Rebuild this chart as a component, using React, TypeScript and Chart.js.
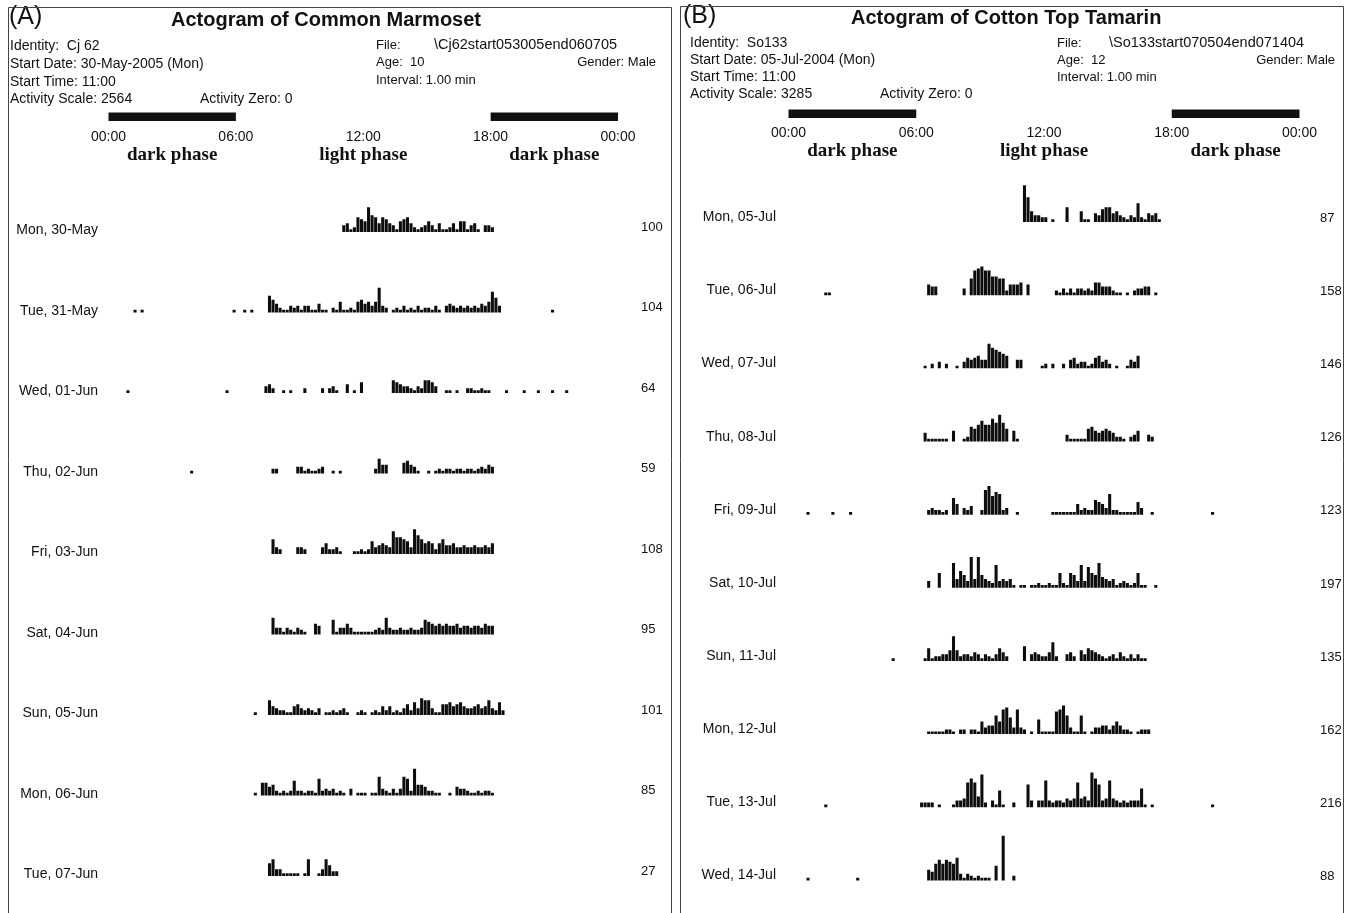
import React, { useEffect, useRef } from "react";
import { Chart, registerables } from "chart.js";

Chart.register(...registerables);

// ---------- data ----------
const HOUR_TICKS = [0, 6, 12, 18, 24];
const HOUR_LABELS = ["00:00", "06:00", "12:00", "18:00", "00:00"];
const PHASE_TICKS = [3, 12, 21];
const PHASE_LABELS = ["dark phase", "light phase", "dark phase"];
const DARK_SPANS = [
  [0, 6],
  [18, 24],
];

// activity levels per 10-min bin (24 groups of 6 = one group per hour), base-36 digits
const A_DAYS = ["Mon, 30-May", "Tue, 31-May", "Wed, 01-Jun", "Thu, 02-Jun", "Fri, 03-Jun", "Sat, 04-Jun", "Sun, 05-Jun", "Mon, 06-Jun", "Tue, 07-Jun"];
const A_TOTALS = [100, 104, 64, 59, 108, 95, 101, 85, 27];
const A_ACTIVITY = [
  "000000 000000 000000 000000 000000 000000 000000 000000 000000 000000 000000 341276 5c8747 643156 742123 531411 241551 341033 200000 000000 000000 000000 000000 000000",
  "000000 010100 000000 000000 000000 000001 001010 000864 211323 133114 110215 112156 4535c3 201213 121312 213103 432323 232435 a73000 000000 000001 000000 000000 000000",
  "000001 000000 000000 000000 000000 000100 000000 003420 010100 020000 202310 040105 000000 006543 321326 653001 101002 211211 000010 000100 010001 000100 000000 000000",
  "000000 000000 000000 000001 000000 000000 000000 000022 000003 312112 300101 000000 000274 400005 643100 101212 212212 212324 300000 000000 000000 000000 000000 000000",
  "000000 000000 000000 000000 000000 000000 000000 000073 200003 320000 352231 000112 126345 43b887 63c975 652574 453343 343343 500000 000000 000000 000000 000000 000000",
  "000000 000000 000000 000000 000000 000000 000000 000083 313213 210054 000713 353111 111232 832232 232237 654545 445344 344354 400000 000000 000000 000000 000000 000000",
  "000000 000000 000000 000000 000000 000000 000001 000743 221145 323213 011212 310012 101214 241213 526387 731155 645643 345347 326200 000000 000000 000000 000000 000000",
  "000000 000000 000000 000000 000000 000000 000001 066452 121272 212218 232312 103011 101193 213139 82d554 221100 104332 112122 100000 000000 000000 000000 000000 000000",
  "000000 000000 000000 000000 000000 000000 000000 000683 311111 018001 385220 000000 000000 000000 000000 000000 000000 000000 000000 000000 000000 000000 000000 000000",
];

const B_DAYS = ["Mon, 05-Jul", "Tue, 06-Jul", "Wed, 07-Jul", "Thu, 08-Jul", "Fri, 09-Jul", "Sat, 10-Jul", "Sun, 11-Jul", "Mon, 12-Jul", "Tue, 13-Jul", "Wed, 14-Jul"];
const B_TOTALS = [87, 158, 146, 126, 123, 197, 135, 162, 216, 88];
const B_ACTIVITY = [
  "000000 000000 000000 000000 000000 000000 000000 000000 000000 000000 000000 ic5332 201000 700051 104367 745321 329214 341000 000000 000000 000000 000000 000000 000000",
  "000000 000011 000000 000000 000000 000000 000544 000000 0308cd ecc998 825556 050000 000213 131332 326644 421101 023344 010000 000000 000000 000000 000000 000000 000000",
  "000000 000000 000000 000000 000000 000000 001020 302001 035456 44ca98 760044 000001 202002 045233 125634 201001 436000 000000 000000 000000 000000 000000 000000 000000",
  "000000 000000 000000 000000 000000 000000 004111 111050 012768 a88b9d 960510 000000 000000 311111 675456 542210 235003 200000 000000 000000 000000 000000 000000 000000",
  "000001 000000 100001 000000 000000 000000 000232 212085 032400 2ce9ba 230010 000000 001111 111523 227653 a22111 116300 100000 000000 000001 000000 000000 000000 000000",
  "000000 000000 000000 000000 000000 000000 000300 7000c4 863f4f 6432b3 434101 101121 121172 1763b3 a76c54 341232 127110 010000 000000 000000 000000 000000 000000 000000",
  "000000 000000 000000 000000 000001 000000 001612 2335c5 233243 132136 420000 703432 249200 342053 654321 231421 313110 000000 000000 000000 000000 000000 000000 000000",
  "000000 000000 000000 000000 000000 000000 000111 112210 220221 634496 cd83c3 201071 111bce 931191 013344 246422 101222 000000 000000 000000 000000 000000 000000 000000",
  "000000 000010 000000 000000 000000 000000 022220 100013 34cec5 g20318 100200 0b3033 d32332 434c45 3heb34 d43232 333910 100000 000000 000001 000000 000000 000000 000000",
  "000001 000000 000000 010000 000000 000000 000548 a8a98b 313212 111070 m00200 000000 000000 000000 000000 000000 000000 000000 000000 000000 000000 000000 000000 000000",
];

// ---------- styling / layout ----------
const SANS = "'Liberation Sans', Arial, sans-serif";
const SERIF = "'Liberation Serif', 'Times New Roman', serif";
const INK = "#111";
const INFO = `14px ${SANS}`;
const INFO_R = `13px ${SANS}`;
const PATH = `14.5px ${SANS}`;
const BINS_PER_HOUR = 6;

type TextItem = { text: string; x: number; y: number; font?: string; align?: CanvasTextAlign };

type Panel = {
  key: string;
  width: number;
  days: string[];
  totals: number[];
  activity: string[];
  hourAxisHeight: number;
  phaseAxisHeight: number;
  leftWidth: number;
  rightWidth: number;
  leftPad: number;
  rightPad: number;
  leftOffset: number;
  rightOffset: number;
  yMax: number;
  firstBase: number;
  rowGap: number;
  darkTop: number;
  darkHeight: number;
  frame: { left: number; right: number; top: number };
  texts: TextItem[];
};

const PANEL_A: Panel = {
  key: "A",
  width: 676,
  days: A_DAYS,
  totals: A_TOTALS,
  activity: A_ACTIVITY,
  hourAxisHeight: 146,
  phaseAxisHeight: 24,
  leftWidth: 108.5,
  rightWidth: 58,
  leftPad: 10.5,
  rightPad: 23,
  leftOffset: -1.5,
  rightOffset: -4.5,
  yMax: (913 - 170) / 2,
  firstBase: 30.85,
  rowGap: 40.25,
  darkTop: 112.5,
  darkHeight: 8.5,
  frame: { left: 8.5, right: 671.5, top: 7.5 },
  texts: [
    { text: "(A)", x: 9, y: 17, font: `25px ${SANS}` },
    { text: "Actogram of Common Marmoset", x: 171, y: 20, font: `bold 20px ${SANS}` },
    { text: "Identity:  Cj 62", x: 10, y: 46 },
    { text: "Start Date: 30-May-2005 (Mon)", x: 10, y: 64 },
    { text: "Start Time: 11:00", x: 10, y: 82 },
    { text: "Activity Scale: 2564", x: 10, y: 99 },
    { text: "Activity Zero: 0", x: 200, y: 99 },
    { text: "File:", x: 376, y: 45, font: INFO_R },
    { text: "\\Cj62start053005end060705", x: 434, y: 45, font: PATH },
    { text: "Age:  10", x: 376, y: 62, font: INFO_R },
    { text: "Gender: Male", x: 656, y: 62, align: "right", font: INFO_R },
    { text: "Interval: 1.00 min", x: 376, y: 80, font: INFO_R },
  ],
};

const PANEL_B: Panel = {
  key: "B",
  width: 669,
  days: B_DAYS,
  totals: B_TOTALS,
  activity: B_ACTIVITY,
  hourAxisHeight: 142,
  phaseAxisHeight: 24,
  leftWidth: 112.5,
  rightWidth: 45.5,
  leftPad: 12.5,
  rightPad: 20.5,
  leftOffset: -4.5,
  rightOffset: -3.5,
  yMax: (913 - 166) / 2,
  firstBase: 27.85,
  rowGap: 36.575,
  darkTop: 109.5,
  darkHeight: 8.5,
  frame: { left: 4.5, right: 667.5, top: 6.5 },
  texts: [
    { text: "(B)", x: 7, y: 16, font: `25px ${SANS}` },
    { text: "Actogram of Cotton Top Tamarin", x: 175, y: 18, font: `bold 20px ${SANS}` },
    { text: "Identity:  So133", x: 14, y: 43 },
    { text: "Start Date: 05-Jul-2004 (Mon)", x: 14, y: 60 },
    { text: "Start Time: 11:00", x: 14, y: 77 },
    { text: "Activity Scale: 3285", x: 14, y: 94 },
    { text: "Activity Zero: 0", x: 204, y: 94 },
    { text: "File:", x: 381, y: 43, font: INFO_R },
    { text: "\\So133start070504end071404", x: 433, y: 43, font: PATH },
    { text: "Age:  12", x: 381, y: 60, font: INFO_R },
    { text: "Gender: Male", x: 659, y: 60, align: "right", font: INFO_R },
    { text: "Interval: 1.00 min", x: 381, y: 77, font: INFO_R },
  ],
};

const parseLevels = (s: string): number[] => {
  const chars = s.replace(/\s+/g, "").split("");
  return chars.map((c) => parseInt(c, 36) || 0);
};

const rowBase = (p: Panel, i: number) => p.firstBase + p.rowGap * i;

const buildPoints = (p: Panel) => {
  const pts: { x: number; y: [number, number] }[] = [];
  p.activity.forEach((row, r) => {
    const base = rowBase(p, r);
    parseLevels(row).forEach((v, j) => {
      if (v > 0) pts.push({ x: (j + 0.5) / BINS_PER_HOUR, y: [base - v, base] });
    });
  });
  return pts;
};

const headerPlugin = (p: Panel) => ({
  id: "header" + p.key,
  afterDraw(chart: any) {
    const ctx: CanvasRenderingContext2D = chart.ctx;
    const xs = chart.scales.x;
    ctx.save();
    ctx.fillStyle = INK;
    DARK_SPANS.forEach(([a, b]) => {
      const x0 = xs.getPixelForValue(a);
      const x1 = xs.getPixelForValue(b);
      ctx.fillRect(x0, p.darkTop, x1 - x0, p.darkHeight);
    });
    ctx.textBaseline = "middle";
    p.texts.forEach((t) => {
      ctx.font = t.font || INFO;
      ctx.textAlign = t.align || "left";
      ctx.fillText(t.text, t.x, t.y);
    });
    ctx.strokeStyle = "#444";
    ctx.lineWidth = 1;
    ctx.beginPath();
    ctx.moveTo(p.frame.left, 2000);
    ctx.lineTo(p.frame.left, p.frame.top);
    ctx.lineTo(p.frame.right, p.frame.top);
    ctx.lineTo(p.frame.right, 2000);
    ctx.stroke();
    ctx.restore();
  },
});

const makeConfig = (p: Panel): any => {
  const rowTicks = () => p.days.map((_, i) => ({ value: rowBase(p, i) }));
  const noGrid = { display: false, drawTicks: false, offset: false };
  const fixV = (w: number) => (s: any) => {
    s.width = w;
    s.paddingTop = 0;
    s.paddingBottom = 0;
  };
  const fixH = (h: number) => (s: any) => {
    s.height = h;
    s.paddingLeft = 0;
    s.paddingRight = 0;
  };
  return {
    type: "bar",
    data: {
      datasets: [
        {
          data: buildPoints(p),
          backgroundColor: "#0d0d0d",
          borderWidth: 0,
          barThickness: 2.4,
          xAxisID: "x",
          yAxisID: "y",
        },
      ],
    },
    options: {
      animation: false,
      responsive: false,
      maintainAspectRatio: false,
      layout: { padding: 0 },
      plugins: { legend: { display: false }, tooltip: { enabled: false } },
      scales: {
        x: {
          type: "linear",
          position: "top",
          min: 0,
          max: 24,
          offset: false,
          weight: 1,
          grid: noGrid,
          border: { display: false },
          afterBuildTicks: (s: any) => {
            s.ticks = HOUR_TICKS.map((v) => ({ value: v }));
          },
          afterFit: fixH(p.hourAxisHeight),
          ticks: {
            autoSkip: false,
            maxRotation: 0,
            padding: 0.6,
            color: INK,
            font: { family: SANS, size: 14 },
            callback: (_v: any, i: number) => HOUR_LABELS[i],
          },
        },
        phase: {
          type: "linear",
          axis: "x",
          position: "top",
          min: 0,
          max: 24,
          offset: false,
          weight: 0,
          grid: noGrid,
          border: { display: false },
          afterBuildTicks: (s: any) => {
            s.ticks = PHASE_TICKS.map((v) => ({ value: v }));
          },
          afterFit: fixH(p.phaseAxisHeight),
          ticks: {
            autoSkip: false,
            maxRotation: 0,
            padding: 3.2,
            color: INK,
            font: { family: SERIF, size: 19, weight: "bold" },
            callback: (_v: any, i: number) => PHASE_LABELS[i],
          },
        },
        y: {
          type: "linear",
          position: "left",
          reverse: true,
          min: 0,
          max: p.yMax,
          grid: noGrid,
          border: { display: false },
          afterBuildTicks: (s: any) => {
            s.ticks = rowTicks();
          },
          afterFit: fixV(p.leftWidth),
          ticks: {
            autoSkip: false,
            padding: p.leftPad,
            labelOffset: p.leftOffset,
            color: INK,
            font: { family: SANS, size: 14 },
            callback: (_v: any, i: number) => p.days[i],
          },
        },
        yR: {
          type: "linear",
          position: "right",
          reverse: true,
          min: 0,
          max: p.yMax,
          grid: noGrid,
          border: { display: false },
          afterBuildTicks: (s: any) => {
            s.ticks = rowTicks();
          },
          afterFit: fixV(p.rightWidth),
          ticks: {
            autoSkip: false,
            padding: p.rightPad,
            labelOffset: p.rightOffset,
            color: INK,
            font: { family: SANS, size: 13 },
            callback: (_v: any, i: number) => String(p.totals[i]),
          },
        },
      },
    },
    plugins: [headerPlugin(p)],
  };
};

export default function App() {
  const refA = useRef<HTMLCanvasElement>(null);
  const refB = useRef<HTMLCanvasElement>(null);

  useEffect(() => {
    const charts: Chart[] = [];
    if (refA.current) charts.push(new Chart(refA.current, makeConfig(PANEL_A)));
    if (refB.current) charts.push(new Chart(refB.current, makeConfig(PANEL_B)));
    return () => charts.forEach((c) => c.destroy());
  }, []);

  return (
    <div style={{ position: "absolute", left: 0, top: 0, width: 1353, height: 913, background: "#fff", overflow: "hidden" }}>
      <canvas
        ref={refA}
        width={PANEL_A.width}
        height={913}
        style={{ position: "absolute", left: 0, top: 0, width: PANEL_A.width, height: 913 }}
      />
      <canvas
        ref={refB}
        width={PANEL_B.width}
        height={913}
        style={{ position: "absolute", left: 676, top: 0, width: PANEL_B.width, height: 913 }}
      />
    </div>
  );
}
